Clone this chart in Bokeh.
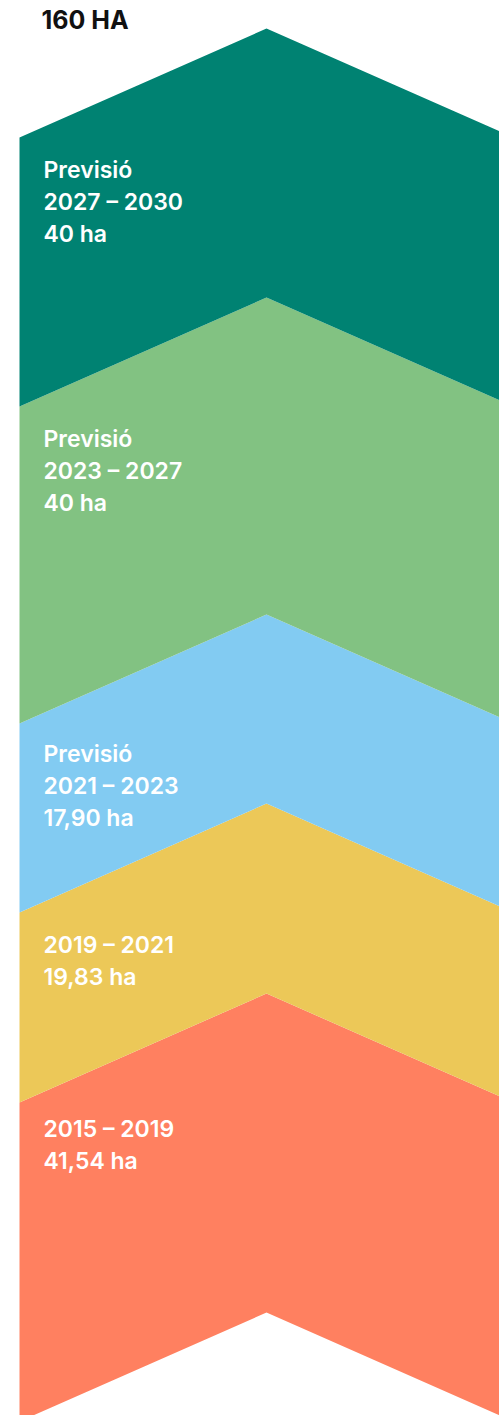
from bokeh.plotting import figure
from bokeh.models import Range1d, ColumnDataSource
from bokeh.core.properties import value
from bokeh.embed import file_html
from bokeh.resources import INLINE

# ---- data (bottom band first) ----
periods = ["2015 – 2019", "2019 – 2021", "2021 – 2023", "2023 – 2027", "2027 – 2030"]
hectares = [41.54, 19.83, 17.90, 40, 40]
forecast = [False, False, True, True, True]
total_label = "160 HA"
# extent of each chevron band along the vertical scale
band_start = [1312, 993, 803, 614, 297]
band_end = [993, 803, 614, 297, 28]

colors = ["#FF8060", "#ECC858", "#82CBF2", "#82C282", "#008272"]

W, H = 499, 1415
p = figure(width=W, height=H, output_backend="svg", toolbar_location=None,
           x_range=Range1d(0, W), y_range=Range1d(H, 0),
           min_border=0, outline_line_color=None, background_fill_color="white")
p.axis.visible = False
p.grid.visible = False

x_left, x_mid = 19, 266
x_right = x_mid + (x_mid - x_left)
drop = 109  # chevron depth

xs, ys = [], []
for s, e in zip(band_start, band_end):
    xs.append([x_left, x_mid, x_right, x_right, x_mid, x_left])
    ys.append([e + drop, e, e + drop, s + drop, s, s + drop])
p.patches(xs=xs, ys=ys, fill_color=colors, line_color=None)

def fmt(v):
    s = ("%.2f" % v).replace(".", ",")
    if s.endswith(",00"):
        s = s[:-3]
    return s + " ha"

tx, ty, tt = [], [], []
offsets = [26, 32, 30, 32, 32]
for i, (per, ha, fc, e) in enumerate(zip(periods, hectares, forecast, band_end)):
    lines = (["Previsió"] if fc else []) + [per, fmt(ha)]
    y0 = e + drop + offsets[i]
    for j, ln in enumerate(lines):
        tx.append(43)
        ty.append(y0 + 32 * j)
        tt.append(ln)

src = ColumnDataSource(dict(x=tx, y=ty, t=tt))
p.text(x="x", y="y", text="t", source=src, text_color="white",
       text_font=value("Inter SemiBold"), text_font_size="23px",
       text_baseline="alphabetic", text_align="left")

p.text(x=[41], y=[19], text=[total_label], text_color="#111111",
       text_font=value("Inter"), text_font_style="bold", text_font_size="25px",
       text_baseline="alphabetic", text_align="left")

open("out.html", "w").write(file_html(p, INLINE))
